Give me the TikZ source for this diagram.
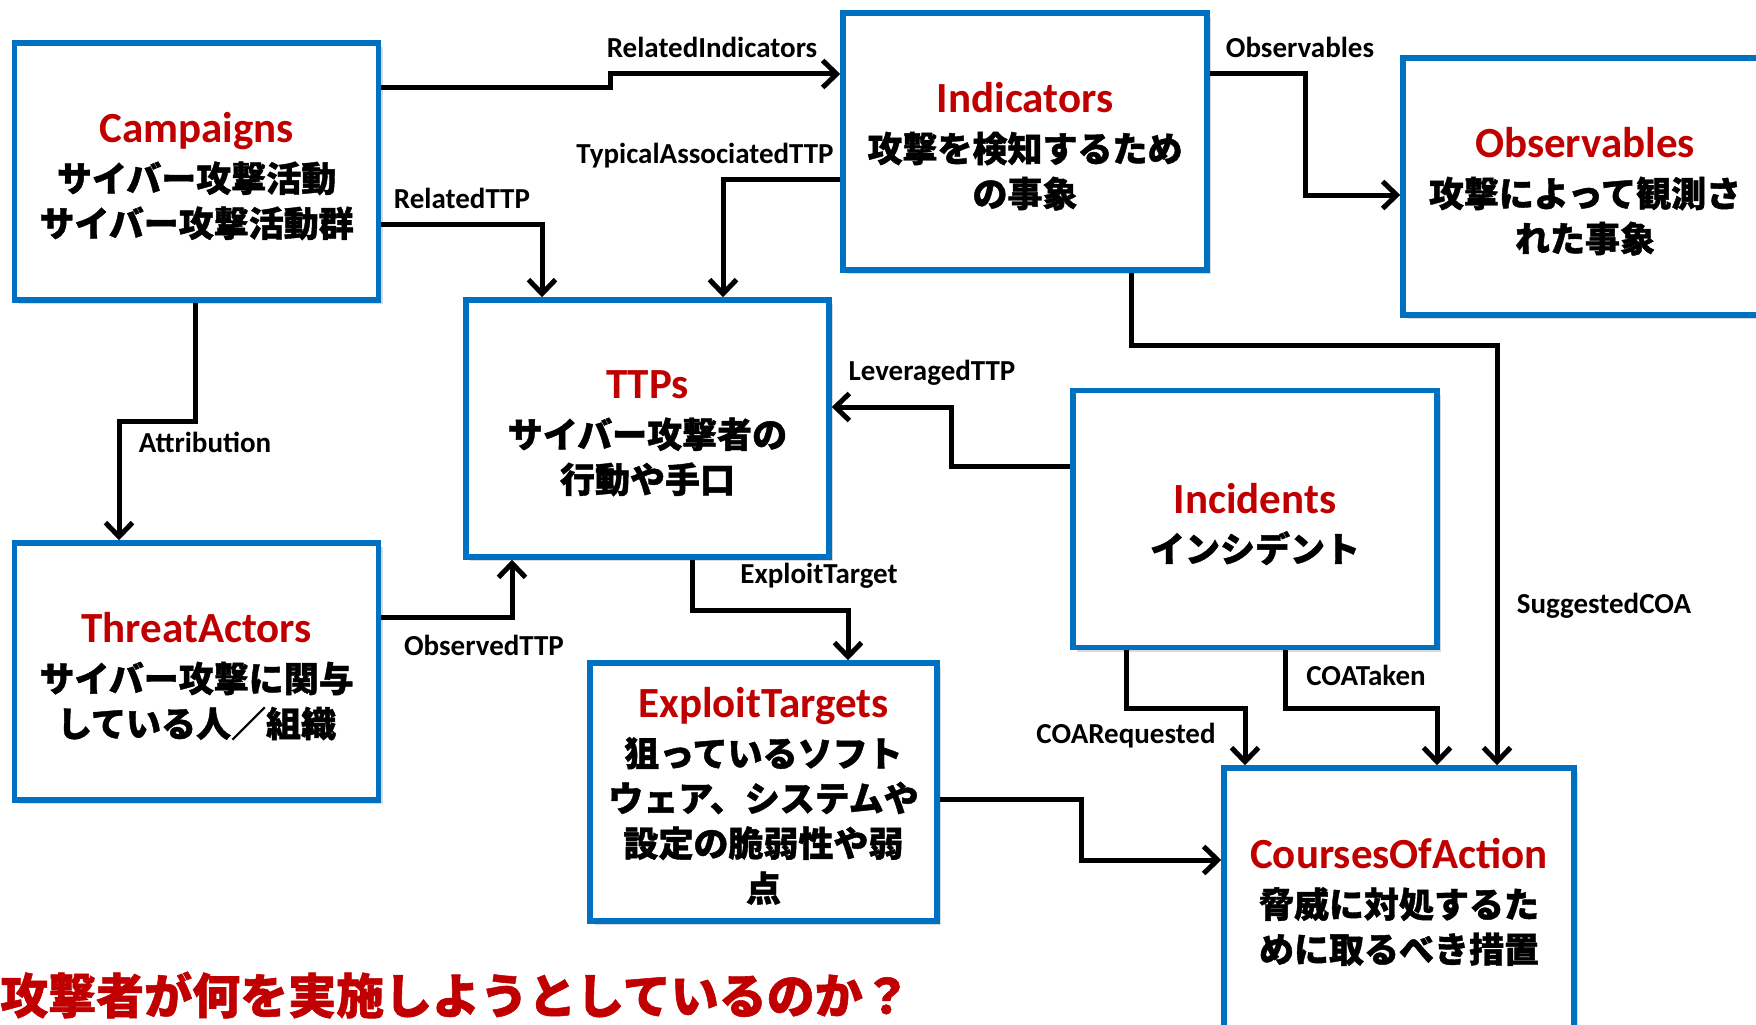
\documentclass[tikz,border=0pt]{standalone}
\usepackage{fontspec}
\setmainfont{Carlito}
\newfontfamily\jp{Noto Sans CJK JP}[BoldFeatures={FakeBold=1.2}]
\usetikzlibrary{arrows.meta,shadows}
\definecolor{boxblue}{HTML}{0070C0}
\definecolor{titlered}{HTML}{C00000}
\tikzset{
  entity/.style={draw=boxblue, line width=5.5pt, fill=white, rectangle,
    minimum width=364pt, minimum height=257pt, inner sep=0pt,
    drop shadow={opacity=0.3, shadow xshift=4pt, shadow yshift=-4pt}},
  boxtext/.style={inner sep=0pt, align=center,
    font=\jp\bfseries\fontsize{35}{45}\selectfont},
  conn/.style={line width=5pt, line join=miter,
    -{Straight Barb[length=14pt,width=27pt]}},
  lbl/.style={font=\bfseries\fontsize{29}{32}\selectfont, inner sep=0pt},
}
\newcommand{\ttl}[1]{{\normalfont\bfseries\color{titlered}\fontsize{43}{45}\selectfont #1}\\[4pt]}
\begin{document}
\begin{tikzpicture}[x=1pt,y=-1pt]
\useasboundingbox (0,0) rectangle (1756,1025);
% boxes
\node[entity] (camp) at (196.6,171.3) {};
\node[entity] (ind) at (1025,141.5) {};
\node[entity] (obs) at (1585,186.5) {};
\node[entity, minimum width=363pt] (ttp) at (647.5,428.5) {};
\node[entity] (ta) at (196.6,671.5) {};
\node[entity] (inc) at (1255,519) {};
\node[entity, minimum width=347pt, minimum height=258pt] (et) at (763.5,792) {};
\node[entity, minimum width=350pt, minimum height=262pt] (coa) at (1399,899) {};
% box texts
\node[boxtext] (campt) at ([yshift=-5pt]camp.center) {\ttl{Campaigns}サイバー攻撃活動\\サイバー攻撃活動群};
\node[boxtext] (indt) at ([yshift=-5pt]ind.center) {\ttl{Indicators}攻撃を検知するため\\の事象};
\node[boxtext] (obst) at ([yshift=-5pt]obs.center) {\ttl{Observables}攻撃によって観測さ\\れた事象};
\node[boxtext] (ttpt) at ([yshift=-5pt]ttp.center) {\ttl{TTPs}サイバー攻撃者の\\行動や手口};
\node[boxtext] (tat) at ([yshift=-5pt]ta.center) {\ttl{ThreatActors}サイバー攻撃に関与\\している人／組織};
\node[boxtext] (inct) at ([yshift=-5pt]inc.center) {\ttl{Incidents}インシデント};
\node[boxtext] (ett) at ([yshift=-4pt]et.center) {\ttl{ExploitTargets}狙っているソフト\\ウェア、システムや\\設定の脆弱性や弱\\点};
\node[boxtext] (coat) at ([yshift=-3pt]coa.center) {\ttl{CoursesOfAction}脅威に対処するた\\めに取るべき措置};
% connectors
\draw[conn] (camp.east |- 0,87) -- (610,87) -- (610,74) -- (ind.west |- 0,74);
\draw[conn] (camp.east |- 0,224) -- (542,224) -- (ttp.north -| 542,0);
\draw[conn] (ind.west |- 0,179) -- (723,179) -- (ttp.north -| 723,0);
\draw[conn] (ind.east |- 0,74) -- (1305,74) -- (1305,195) -- (obs.west |- 0,195);
\draw[conn] (ind.south -| 1131,0) -- (1131,345) -- (1497,345) -- (coa.north -| 1497,0);
\draw[conn] (camp.south -| 195,0) -- (195,421) -- (119,421) -- (ta.north -| 119,0);
\draw[conn] (ta.east |- 0,617) -- (512,617) -- (ttp.south -| 512,0);
\draw[conn] (inc.west |- 0,466) -- (951,466) -- (951,407) -- (ttp.east |- 0,407);
\draw[conn] (ttp.south -| 692,0) -- (692,610) -- (848,610) -- (et.north -| 848,0);
\draw[conn] (inc.south -| 1126,0) -- (1126,708) -- (1245,708) -- (coa.north -| 1245,0);
\draw[conn] (inc.south -| 1285,0) -- (1285,708) -- (1437,708) -- (coa.north -| 1437,0);
\draw[conn] (et.east |- 0,799) -- (1081,799) -- (1081,860) -- (coa.west |- 0,860);
% labels
\node[lbl] (l1) at (712,47) {RelatedIndicators};
\node[lbl] (l2) at (1300,47) {Observables};
\node[lbl] (l3) at (705,156) {TypicalAssociatedTTP};
\node[lbl] (l4) at (462,198) {RelatedTTP};
\node[lbl] (l5) at (932,373) {LeveragedTTP};
\node[lbl] (l6) at (205,442) {Attribution};
\node[lbl] (l7) at (819,576) {ExploitTarget};
\node[lbl] (l8) at (484,645) {ObservedTTP};
\node[lbl] (l9) at (1604,606) {SuggestedCOA};
\node[lbl] (l10) at (1366,675) {COATaken};
\node[lbl] (l11) at (1126,736) {COARequested};
% bottom question
\node[anchor=west, inner sep=0pt, text=titlered, font=\jp\bfseries\fontsize{48}{52}\selectfont] (q) at (0,995) {攻撃者が何を実施しようとしているのか？};
\end{tikzpicture}
\end{document}
